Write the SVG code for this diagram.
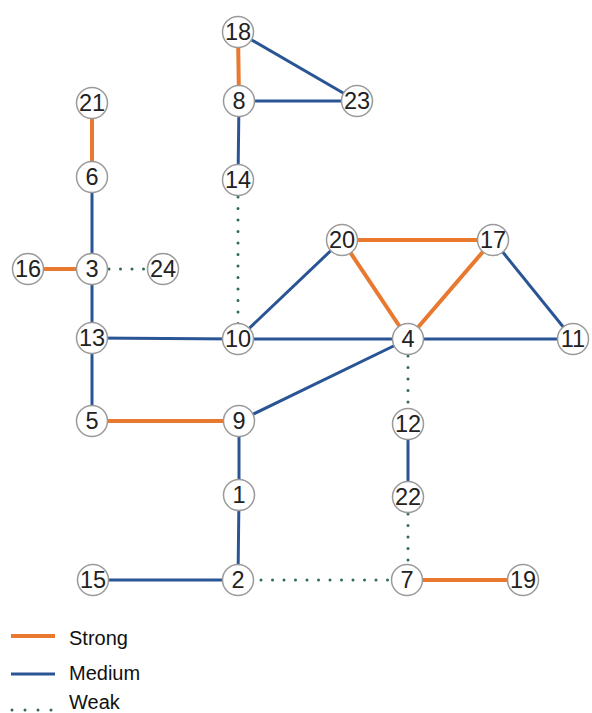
<svg xmlns="http://www.w3.org/2000/svg" width="592" height="713" viewBox="0 0 592 713">
  <style>
    .strong { stroke: #E8792F; stroke-width: 4; fill: none; }
    .medium { stroke: #2A5595; stroke-width: 3; fill: none; }
    .weak { stroke: #2F6B55; stroke-width: 3; fill: none; stroke-dasharray: 0 11.5; stroke-linecap: round; }
    .node circle { fill: #ffffff; stroke: #9a9a9a; stroke-width: 1.5; }
    .node text { font-family: "Liberation Sans", Arial, sans-serif; font-size: 23.5px; fill: #222222; text-anchor: middle; dominant-baseline: central; }
    .legend text { font-family: "Liberation Sans", Arial, sans-serif; font-size: 20px; fill: #111111; }
  </style>
  <rect width="592" height="713" fill="#ffffff"/>

  <g id="connectors">
    <!-- strong ties -->
    <line class="strong" x1="238" y1="32" x2="239" y2="101"/>
    <line class="strong" x1="92" y1="103" x2="92" y2="177"/>
    <line class="strong" x1="28" y1="269" x2="92" y2="269"/>
    <line class="strong" x1="342" y1="240" x2="493" y2="240"/>
    <line class="strong" x1="342" y1="240" x2="408" y2="339"/>
    <line class="strong" x1="493" y1="240" x2="408" y2="339"/>
    <line class="strong" x1="92" y1="421" x2="239" y2="421"/>
    <line class="strong" x1="407" y1="580" x2="523" y2="580"/>
    <!-- medium ties -->
    <line class="medium" x1="238" y1="32" x2="357" y2="101"/>
    <line class="medium" x1="239" y1="101" x2="357" y2="101"/>
    <line class="medium" x1="239" y1="101" x2="238" y2="180"/>
    <line class="medium" x1="92" y1="177" x2="92" y2="269"/>
    <line class="medium" x1="92" y1="269" x2="92" y2="338"/>
    <line class="medium" x1="92" y1="338" x2="238" y2="339"/>
    <line class="medium" x1="238" y1="339" x2="408" y2="339"/>
    <line class="medium" x1="238" y1="339" x2="342" y2="240"/>
    <line class="medium" x1="408" y1="339" x2="573" y2="339"/>
    <line class="medium" x1="493" y1="240" x2="573" y2="339"/>
    <line class="medium" x1="408" y1="339" x2="239" y2="421"/>
    <line class="medium" x1="92" y1="338" x2="92" y2="421"/>
    <line class="medium" x1="239" y1="421" x2="239" y2="495"/>
    <line class="medium" x1="239" y1="495" x2="238" y2="580"/>
    <line class="medium" x1="93" y1="580" x2="238" y2="580"/>
    <line class="medium" x1="408" y1="424" x2="408" y2="497"/>
    <!-- weak ties -->
    <line class="weak" x1="109" y1="269" x2="147" y2="269"/>
    <line class="weak" x1="238" y1="197" x2="238" y2="326"/>
    <line class="weak" x1="408" y1="356" x2="408" y2="408"/>
    <line class="weak" x1="408" y1="514" x2="408" y2="565"/>
    <line class="weak" x1="261" y1="580" x2="392" y2="580"/>
  </g>

  <g id="n18" class="node"><circle cx="238" cy="32" r="15.5"/><text x="238" y="32">18</text></g>
  <g id="n8" class="node"><circle cx="239" cy="101" r="15.5"/><text x="239" y="101">8</text></g>
  <g id="n23" class="node"><circle cx="357" cy="101" r="15.5"/><text x="357" y="101">23</text></g>
  <g id="n21" class="node"><circle cx="92" cy="103" r="15.5"/><text x="92" y="103">21</text></g>
  <g id="n6" class="node"><circle cx="92" cy="177" r="15.5"/><text x="92" y="177">6</text></g>
  <g id="n14" class="node"><circle cx="238" cy="180" r="15.5"/><text x="238" y="180">14</text></g>
  <g id="n20" class="node"><circle cx="342" cy="240" r="15.5"/><text x="342" y="240">20</text></g>
  <g id="n17" class="node"><circle cx="493" cy="240" r="15.5"/><text x="493" y="240">17</text></g>
  <g id="n16" class="node"><circle cx="28" cy="269" r="15.5"/><text x="28" y="269">16</text></g>
  <g id="n3" class="node"><circle cx="92" cy="269" r="15.5"/><text x="92" y="269">3</text></g>
  <g id="n24" class="node"><circle cx="163" cy="269" r="15.5"/><text x="163" y="269">24</text></g>
  <g id="n13" class="node"><circle cx="92" cy="338" r="15.5"/><text x="92" y="338">13</text></g>
  <g id="n10" class="node"><circle cx="238" cy="339" r="15.5"/><text x="238" y="339">10</text></g>
  <g id="n4" class="node"><circle cx="408" cy="339" r="15.5"/><text x="408" y="339">4</text></g>
  <g id="n11" class="node"><circle cx="573" cy="339" r="15.5"/><text x="573" y="339">11</text></g>
  <g id="n5" class="node"><circle cx="92" cy="421" r="15.5"/><text x="92" y="421">5</text></g>
  <g id="n9" class="node"><circle cx="239" cy="421" r="15.5"/><text x="239" y="421">9</text></g>
  <g id="n12" class="node"><circle cx="408" cy="424" r="15.5"/><text x="408" y="424">12</text></g>
  <g id="n1" class="node"><circle cx="239" cy="495" r="15.5"/><text x="239" y="495">1</text></g>
  <g id="n22" class="node"><circle cx="408" cy="497" r="15.5"/><text x="408" y="497">22</text></g>
  <g id="n15" class="node"><circle cx="93" cy="580" r="15.5"/><text x="93" y="580">15</text></g>
  <g id="n2" class="node"><circle cx="238" cy="580" r="15.5"/><text x="238" y="580">2</text></g>
  <g id="n7" class="node"><circle cx="407" cy="580" r="15.5"/><text x="407" y="580">7</text></g>
  <g id="n19" class="node"><circle cx="523" cy="580" r="15.5"/><text x="523" y="580">19</text></g>

  <g id="legend" class="legend">
    <line class="strong" x1="11" y1="636" x2="55" y2="636"/>
    <text x="69" y="645">Strong</text>
    <line class="medium" x1="11" y1="674" x2="55" y2="674"/>
    <text x="69" y="680">Medium</text>
    <line class="weak" x1="12" y1="710" x2="56" y2="710" style="stroke-dasharray: 0 13"/>
    <text x="69" y="709">Weak</text>
  </g>
</svg>
